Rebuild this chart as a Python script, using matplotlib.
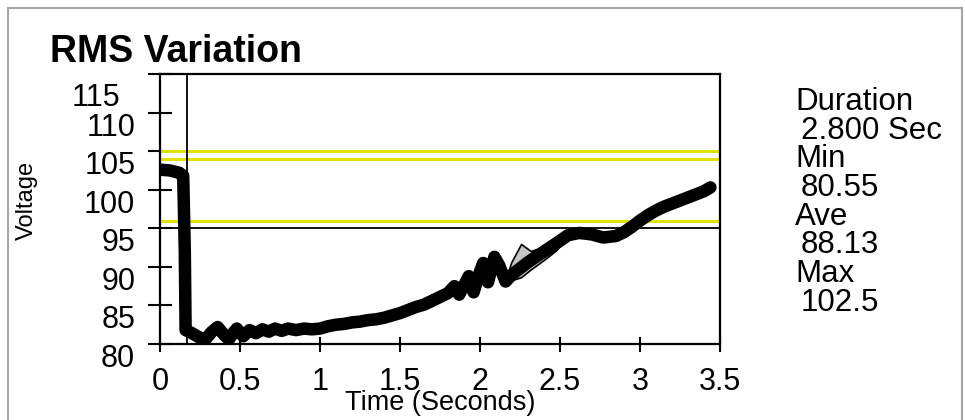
import matplotlib
matplotlib.use("Agg")
import matplotlib.pyplot as plt
import matplotlib.transforms as mtransforms
from matplotlib.patches import Rectangle

plt.rcParams['font.family'] = ['Liberation Sans', 'DejaVu Sans']

# RMS voltage trace
time_s = [0.00, 0.06, 0.12, 0.145, 0.155, 0.16, 0.20, 0.25, 0.28, 0.32, 0.36, 0.40, 0.43, 0.46,
          0.48, 0.52, 0.56, 0.60, 0.64, 0.68, 0.72, 0.76, 0.80, 0.85, 0.90, 0.95, 1.00, 1.05,
          1.10, 1.15, 1.20, 1.25, 1.30, 1.35, 1.40, 1.45, 1.50, 1.55, 1.60, 1.65, 1.70, 1.75,
          1.80, 1.84, 1.87, 1.90, 1.93, 1.96, 2.00, 2.02, 2.05, 2.09, 2.12, 2.16, 2.20, 2.30,
          2.40, 2.48, 2.55, 2.62, 2.70, 2.77, 2.85, 2.90, 2.95, 3.00, 3.05, 3.10, 3.15, 3.20,
          3.25, 3.30, 3.35, 3.40, 3.44]
voltage = [102.6, 102.5, 102.2, 101.8, 92.0, 81.8, 81.4, 80.8, 80.5, 81.5, 82.2, 81.2, 80.6, 81.5,
           82.0, 81.0, 81.8, 81.4, 81.9, 81.6, 82.0, 81.7, 82.0, 81.8, 82.0, 81.9, 82.0, 82.3,
           82.5, 82.6, 82.8, 82.9, 83.1, 83.2, 83.4, 83.7, 84.0, 84.4, 84.8, 85.1, 85.6, 86.1,
           86.6, 87.5, 86.4, 87.6, 88.8, 86.7, 89.4, 90.5, 88.0, 91.3, 90.2, 88.1, 89.0, 90.6,
           92.0, 93.1, 94.1, 94.4, 94.2, 93.8, 94.0, 94.5, 95.2, 96.0, 96.7, 97.3, 97.8, 98.2,
           98.6, 99.0, 99.4, 99.8, 100.3]

# min / max envelope where it separates from the trace
env_t = [2.16, 2.20, 2.26, 2.32, 2.40, 2.48, 2.55]
env_hi = [88.2, 90.6, 92.9, 92.0, 92.5, 93.5, 94.3]
env_lo = [88.2, 88.2, 88.6, 89.6, 90.8, 92.1, 94.0]

limit_lines = [105, 104, 96]
nominal = 95
cursor_t = 0.17

x_ticks = [0, 0.5, 1, 1.5, 2, 2.5, 3, 3.5]
x_labels = ['0', '0.5', '1', '1.5', '2', '2.5', '3', '3.5']
y_ticks = [80, 85, 90, 95, 100, 105, 110, 115]
y_labels = ['80', '85', '90', '95', '100', '105', '110', '']

stat_names = ['Duration', 'Min', 'Ave', 'Max']
stat_values = ['2.800 Sec', '80.55', '88.13', '102.5']

W, H = 965, 420
fig = plt.figure(figsize=(W / 100, H / 100), dpi=100)
fig.patch.set_facecolor('white')

# grey outer frame
fig.patches.append(Rectangle((8 / W, -0.1), (962 - 8) / W, 1.1 - 8 / H, transform=fig.transFigure,
                             fill=False, edgecolor='#a6a6a6', linewidth=1.5))

ax = fig.add_axes([160 / W, (H - 344) / H, 560 / W, 270 / H])
ax.set_xlim(0, 3.5)
ax.set_ylim(80, 115)

for y in limit_lines:
    ax.axhline(y, color='#e2e200', linewidth=2.2, zorder=2)
ax.axhline(nominal, color='black', linewidth=1.3, zorder=2)
ax.axvline(cursor_t, color='black', linewidth=1.3, zorder=2)

ax.fill_between(env_t, env_lo, env_hi, color='#c4c4c4', zorder=3, linewidth=0)
ax.plot(env_t, env_hi, color='black', linewidth=1.2, zorder=3)
ax.plot(env_t, env_lo, color='black', linewidth=1.2, zorder=3)
ax.plot(time_s, voltage, color='black', linewidth=9, solid_capstyle='round',
        solid_joinstyle='round', zorder=4)

for s in ax.spines.values():
    s.set_linewidth(1.6)
    s.set_color('black')

ax.set_xticks(x_ticks)
ax.set_xticklabels(x_labels, fontsize=22)
ax.set_yticks(y_ticks)
ax.set_yticklabels(y_labels, fontsize=22)
for lab in ax.get_yticklabels():
    lab.set_va('top')
ax.tick_params(axis='x', direction='inout', length=10.8, width=1.5, pad=11)
ax.tick_params(axis='y', direction='inout', length=17, width=1.5, pad=9.4)

# the top label sits off its tick in the original
off = mtransforms.ScaledTranslation(-40 / 100, -9 / 100, fig.dpi_scale_trans)
ax.text(0, 115, '115', fontsize=22, ha='right', va='top',
        transform=mtransforms.blended_transform_factory(ax.transAxes, ax.transData) + off)

ax.set_xlabel('Time (Seconds)', fontsize=19.5, va='baseline')
ax.xaxis.set_label_coords(0.5, (344 - 410) / 270)
ax.set_ylabel('Voltage', fontsize=17, va='center')
ax.yaxis.set_label_coords((27 - 160) / 560, (344 - 200) / 270)

fig.text(50 / W, 1 - 62 / H, 'RMS Variation', fontsize=27, fontweight='bold', va='baseline')

base = 110
step = 28.7
for i, (name, val) in enumerate(zip(stat_names, stat_values)):
    y1 = base + 2 * i * step
    y2 = y1 + step
    fig.text(795 / W, 1 - y1 / H, name, fontsize=22.5, va='baseline')
    fig.text(801 / W, 1 - y2 / H, val, fontsize=22.5, va='baseline')

fig.savefig('out.png', dpi=100)
